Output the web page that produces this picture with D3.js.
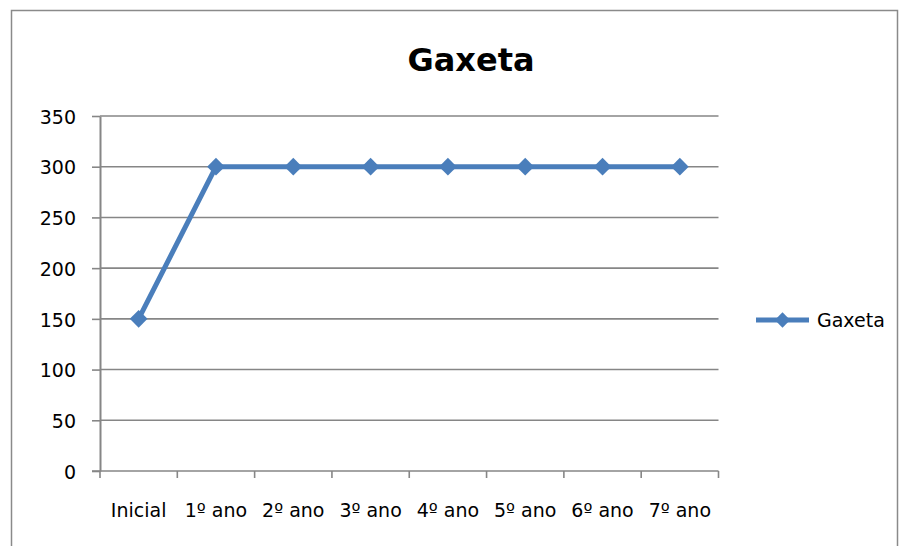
<!DOCTYPE html>
<html>
<head>
<meta charset="utf-8">
<script src="https://cdn.jsdelivr.net/npm/d3@7"></script>
<style>
  html, body { margin: 0; padding: 0; background: #fff; }
  svg { display: block; }
  text { font-family: "DejaVu Sans", sans-serif; fill: #000; }
</style>
</head>
<body>
<svg id="chart" width="899" height="546"></svg>
<script>
// Chart data
const categories = ["Inicial", "1º ano", "2º ano", "3º ano", "4º ano", "5º ano", "6º ano", "7º ano"];
const gaxetaValues = [150, 300, 300, 300, 300, 300, 300, 300];
const yTicks = [0, 50, 100, 150, 200, 250, 300, 350];
const seriesName = "Gaxeta";
const chartTitle = "Gaxeta";

const svg = d3.select("#chart");
const lineColor = "#4a7ebb";
const gridColor = "#868686";

// Outer frame
svg.append("rect")
  .attr("x", 11.5).attr("y", 10.5)
  .attr("width", 886).attr("height", 560)
  .attr("fill", "none").attr("stroke", "#8a8a8a").attr("stroke-width", 1.5);

const plot = { left: 100, right: 718.5, top: 116, bottom: 471 };

const x = d3.scaleBand().domain(categories).range([plot.left, plot.right]).padding(0);
const y = d3.scaleLinear().domain([0, 350]).range([plot.bottom, plot.top]);

// Horizontal gridlines
svg.append("g")
  .selectAll("line")
  .data(yTicks.filter(d => d > 0))
  .join("line")
  .attr("x1", plot.left).attr("x2", plot.right)
  .attr("y1", d => y(d)).attr("y2", d => y(d))
  .attr("stroke", gridColor).attr("stroke-width", 1.6);

// Y axis
const yAxis = svg.append("g")
  .attr("transform", `translate(${plot.left},0)`)
  .call(d3.axisLeft(y).tickValues(yTicks).tickSize(8).tickPadding(16).tickSizeOuter(0));
yAxis.select(".domain").attr("stroke", gridColor).attr("stroke-width", 2);
yAxis.selectAll(".tick line").attr("stroke", gridColor).attr("stroke-width", 1.6);
yAxis.selectAll(".tick text")
  .attr("font-size", 19).attr("font-family", "DejaVu Sans, sans-serif")
  .attr("fill", "#000").attr("dy", "0.38em");

// X axis with ticks on band boundaries
const xAxis = svg.append("g").attr("transform", `translate(0,${plot.bottom})`);
xAxis.append("line")
  .attr("x1", plot.left - 8).attr("x2", plot.right)
  .attr("y1", 0).attr("y2", 0)
  .attr("stroke", gridColor).attr("stroke-width", 1.6);
const boundaries = categories.map(c => x(c)).concat([plot.right]);
xAxis.selectAll("line.tk")
  .data(boundaries)
  .join("line")
  .attr("class", "tk")
  .attr("x1", d => d).attr("x2", d => d)
  .attr("y1", 0).attr("y2", 7)
  .attr("stroke", gridColor).attr("stroke-width", 1.6);
xAxis.selectAll("text")
  .data(categories)
  .join("text")
  .attr("x", d => x(d) + x.bandwidth() / 2)
  .attr("y", 46)
  .attr("text-anchor", "middle")
  .attr("font-size", 19)
  .text(d => d);

// Series line
const pts = categories.map((c, i) => ({ c, v: gaxetaValues[i] }));
const line = d3.line().x(d => x(d.c) + x.bandwidth() / 2).y(d => y(d.v));
svg.append("path")
  .datum(pts)
  .attr("d", line)
  .attr("fill", "none")
  .attr("stroke", lineColor)
  .attr("stroke-width", 5)
  .attr("stroke-linejoin", "round");

// Diamond markers
const diamond = d3.symbol().type(d3.symbolDiamond2).size(200);
svg.append("g")
  .selectAll("path")
  .data(pts)
  .join("path")
  .attr("d", diamond)
  .attr("transform", d => `translate(${x(d.c) + x.bandwidth() / 2},${y(d.v)})`)
  .attr("fill", lineColor);

// Title
svg.append("text")
  .attr("x", 471).attr("y", 71)
  .attr("text-anchor", "middle")
  .attr("font-size", 32)
  .attr("font-weight", "bold")
  .text(chartTitle);

// Legend
const lg = svg.append("g").attr("transform", "translate(756,320)");
lg.append("line")
  .attr("x1", 0).attr("x2", 53).attr("y1", 0).attr("y2", 0)
  .attr("stroke", lineColor).attr("stroke-width", 5);
lg.append("path")
  .attr("d", d3.symbol().type(d3.symbolDiamond2).size(150))
  .attr("transform", "translate(26.5,0)")
  .attr("fill", lineColor);
lg.append("text")
  .attr("x", 61).attr("y", 0).attr("dy", "0.36em")
  .attr("font-size", 19)
  .text(seriesName);
</script>
</body>
</html>
